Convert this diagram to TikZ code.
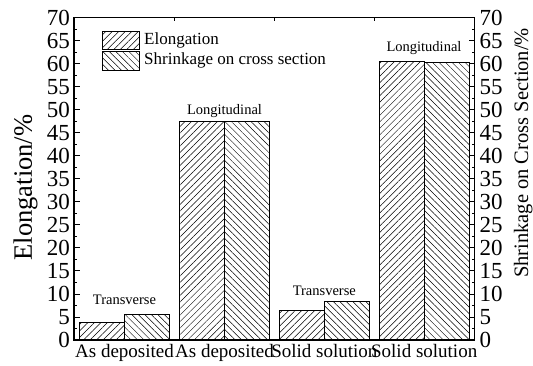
\documentclass[tikz,border=0pt]{standalone}
\usepackage{fontspec}
\setmainfont{Liberation Serif}
\usetikzlibrary{patterns.meta}
\begin{document}
\begin{tikzpicture}[x=1pt,y=1pt,
  frame/.style={line width=1.1pt},
  elbar/.style={draw=black,line width=0.7pt,pattern={Lines[angle=45,distance=4.6pt,line width=0.5pt]}},
  shbar/.style={draw=black,line width=0.7pt,pattern={Lines[angle=-45,distance=4.6pt,line width=0.5pt]}},
  ticklab/.style={font=\fontsize{23}{23}\selectfont,inner sep=0pt},
  catlab/.style={font=\fontsize{19}{19}\selectfont,inner sep=0pt,anchor=base},
  barlab/.style={font=\fontsize{14.5}{14.5}\selectfont,inner sep=0pt,anchor=base},
  leglab/.style={font=\fontsize{17}{17}\selectfont,inner sep=0pt,anchor=west},
  axtitle/.style={inner sep=0pt,anchor=base,rotate=90},
  tickmark/.style={line width=0.8pt}]
\useasboundingbox (0,0) rectangle (533,365);
\begin{scope}[shift={(0,25)},y=4.607pt]
  % bars
  \draw[elbar] (79.5,0) rectangle (124.5,3.9);
  \draw[shbar] (124.5,0) rectangle (169.5,5.5);
  \draw[elbar] (179.5,0) rectangle (224.5,47.5);
  \draw[shbar] (224.5,0) rectangle (269.5,47.5);
  \draw[elbar] (279.3,0) rectangle (324.3,6.4);
  \draw[shbar] (324.3,0) rectangle (369.3,8.4);
  \draw[elbar] (379.2,0) rectangle (424.2,60.5);
  \draw[shbar] (424.2,0) rectangle (469.2,60.2);
  % ticks
  \foreach \v in {0,5,...,70} {
    \draw[tickmark] (74,\v) -- ++(6pt,0);
    \draw[tickmark] (474.7,\v) -- ++(-6pt,0);
    \node[ticklab,anchor=east] (l\v) at (70,\v) {\v};
    \node[ticklab,anchor=west] (r\v) at (479.5,\v) {\v};
  }
  \foreach \v in {2.5,7.5,...,67.5} {
    \draw[tickmark] (74,\v) -- ++(3pt,0);
    \draw[tickmark] (474.7,\v) -- ++(-3pt,0);
  }
  \foreach \x in {174.5,274.5,374.5} {
    \draw[tickmark] (\x,70) -- ++(0,-3pt);
  }
  \draw[frame] (74,0) rectangle (474.7,70);
\end{scope}
% bar labels
\node[barlab] (t1) at (124.5,61) {Transverse};
\node[barlab] (g2) at (224.5,251) {Longitudinal};
\node[barlab] (t3) at (324.3,70) {Transverse};
\node[barlab] (g4) at (424,313) {Longitudinal};
% category labels
\node[catlab] (c1) at (124.5,7.5) {As deposited};
\node[catlab] (c2) at (224.5,7.5) {As deposited};
\node[catlab] (c3) at (324.3,7.5) {Solid solution};
\node[catlab] (c4) at (424.2,7.5) {Solid solution};
% legend
\draw[elbar] (102.7,315.7) rectangle (139.3,333.3);
\draw[shbar] (102.7,295) rectangle (139.3,313.3);
\node[leglab] (e1) at (144,324.5) {Elongation};
\node[leglab] (e2) at (144,304.2) {Shrinkage on cross section};
% axis titles
\node[axtitle,font=\fontsize{26.5}{26.5}\selectfont] (yl) at (32,177.5) {Elongation/\%};
\node[axtitle,font=\fontsize{20.5}{20.5}\selectfont] (yr) at (528,212) {Shrinkage on Cross Section/\%};
\end{tikzpicture}
\end{document}
